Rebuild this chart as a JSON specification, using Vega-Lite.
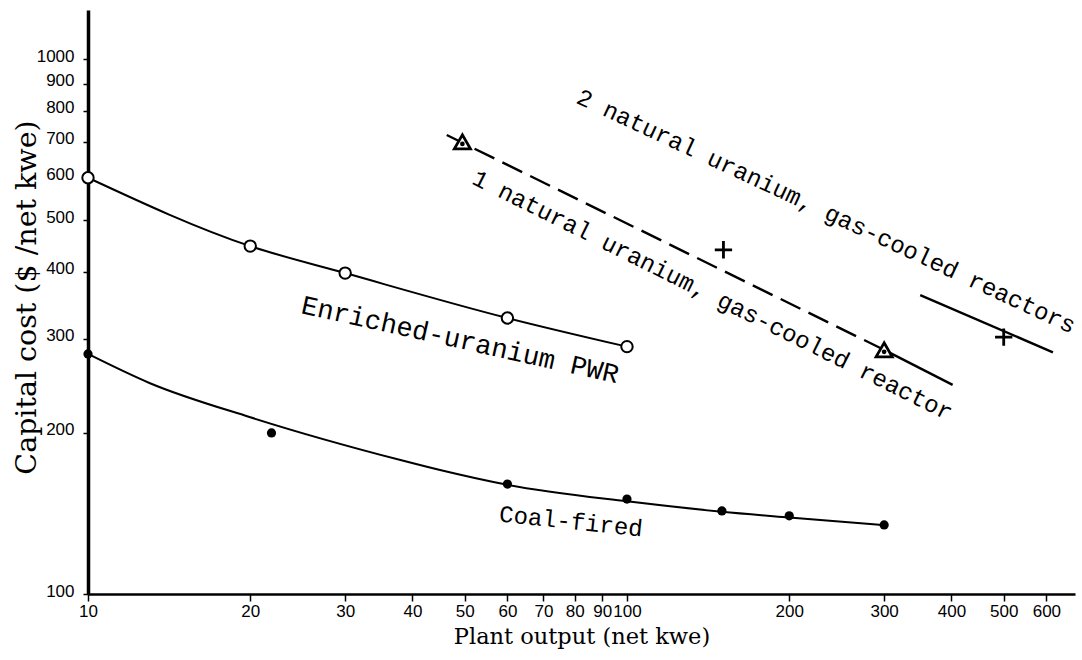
{
  "$schema": "https://vega.github.io/schema/vega-lite/v6.json",
  "width": 987,
  "height": 584,
  "autosize": {"type": "none"},
  "padding": {"left": 88, "top": 10, "right": 7, "bottom": 66},
  "background": "white",
  "config": {
    "view": {"stroke": null},
    "axis": {"grid": false, "domainColor": "black", "tickColor": "black", "labelColor": "black", "titleColor": "black"}
  },
  "datasets": {
    "enriched": [
      {"output": 10, "cost": 600},
      {"output": 20, "cost": 447},
      {"output": 30, "cost": 398},
      {"output": 60, "cost": 328},
      {"output": 100, "cost": 290}
    ],
    "coalCurve": [
      {"output": 10, "cost": 281},
      {"output": 13, "cost": 248},
      {"output": 20, "cost": 214},
      {"output": 38, "cost": 178},
      {"output": 45, "cost": 170.5},
      {"output": 60, "cost": 160},
      {"output": 100, "cost": 149},
      {"output": 150, "cost": 142.5},
      {"output": 200, "cost": 139},
      {"output": 300, "cost": 134.5}
    ],
    "coal": [
      {"output": 10, "cost": 281},
      {"output": 21.9, "cost": 200},
      {"output": 60, "cost": 160.5},
      {"output": 100, "cost": 150.5},
      {"output": 150, "cost": 143},
      {"output": 200, "cost": 140},
      {"output": 300, "cost": 134.6}
    ],
    "natLines": [
      {"seg": "dash", "output": 46.3, "cost": 721},
      {"seg": "dash", "output": 300, "cost": 286},
      {"seg": "solid1", "output": 300, "cost": 286},
      {"seg": "solid1", "output": 402, "cost": 246},
      {"seg": "solid2", "output": 350, "cost": 362},
      {"seg": "solid2", "output": 617, "cost": 283}
    ],
    "triangles": [
      {"output": 49.5, "cost": 700},
      {"output": 300, "cost": 286}
    ],
    "plus": [
      {"output": 151, "cost": 440},
      {"output": 500, "cost": 302}
    ],
    "labels": [
      {"key": "n2", "label": "2 natural uranium, gas-cooled reactors", "output": 234, "cost": 518},
      {"key": "n1", "label": "1 natural uranium, gas-cooled reactor", "output": 144, "cost": 361},
      {"key": "pwr", "label": "Enriched-uranium PWR", "output": 49, "cost": 298},
      {"key": "coal", "label": "Coal-fired", "output": 78.7, "cost": 136.3}
    ]
  },
  "encoding": {
    "x": {
      "field": "output",
      "type": "quantitative",
      "scale": {"type": "log", "domain": [10, 678], "nice": false},
      "axis": {
        "values": [10, 20, 30, 40, 50, 60, 70, 80, 90, 100, 200, 300, 400, 500, 600],
        "format": "d",
        "domainWidth": 2.5,
        "tickSize": 7,
        "tickWidth": 1.5,
        "labelFont": "Liberation Sans",
        "labelFontSize": 17,
        "labelPadding": 2,
        "labelFlush": false,
        "labelOverlap": false,
        "title": "Plant output (net kwe)",
        "titleFont": "DejaVu Serif",
        "titleFontSize": 22.5,
        "titleFontWeight": "normal",
        "titlePadding": 6
      }
    },
    "y": {
      "field": "cost",
      "type": "quantitative",
      "scale": {"type": "log", "domain": [100, 1235], "nice": false},
      "axis": {
        "values": [100, 200, 300, 400, 500, 600, 700, 800, 900, 1000],
        "format": "d",
        "domainWidth": 3.5,
        "tickSize": 5,
        "tickWidth": 1.5,
        "labelFont": "Liberation Sans",
        "labelFontSize": 17,
        "labelPadding": 9,
        "labelOffset": -3,
        "labelFlush": false,
        "labelOverlap": false,
        "title": "Capital cost ($ /net kwe)",
        "titleFont": "DejaVu Serif",
        "titleFontSize": 28.5,
        "titleFontWeight": "normal",
        "titleX": -47,
        "titleY": 287
      }
    }
  },
  "layer": [
    {
      "data": {"name": "enriched"},
      "mark": {"type": "line", "interpolate": "monotone", "color": "black", "strokeWidth": 2}
    },
    {
      "data": {"name": "coalCurve"},
      "mark": {"type": "line", "interpolate": "monotone", "color": "black", "strokeWidth": 2}
    },
    {
      "data": {"name": "natLines"},
      "transform": [{"filter": "datum.seg === 'dash'"}],
      "mark": {"type": "line", "color": "black", "strokeWidth": 2.4, "strokeDash": [22, 9]}
    },
    {
      "data": {"name": "natLines"},
      "transform": [{"filter": "datum.seg !== 'dash'"}],
      "mark": {"type": "line", "color": "black", "strokeWidth": 2.4},
      "encoding": {"detail": {"field": "seg"}}
    },
    {
      "data": {"name": "enriched"},
      "mark": {"type": "point", "shape": "circle", "filled": true, "fill": "white", "stroke": "black", "strokeWidth": 2, "size": 130, "opacity": 1}
    },
    {
      "data": {"name": "coal"},
      "mark": {"type": "circle", "color": "black", "size": 85, "opacity": 1}
    },
    {
      "data": {"name": "triangles"},
      "mark": {"type": "point", "shape": "triangle-up", "filled": true, "fill": "white", "stroke": "black", "strokeWidth": 2.8, "size": 260, "opacity": 1}
    },
    {
      "data": {"name": "triangles"},
      "mark": {"type": "circle", "color": "black", "size": 22, "yOffset": 2, "opacity": 1}
    },
    {
      "data": {"name": "plus"},
      "mark": {"type": "point", "shape": "M -1 0 L 1 0 M 0 -1 L 0 1", "filled": false, "stroke": "black", "strokeWidth": 2.8, "size": 300, "opacity": 1}
    },
    {
      "data": {"name": "labels"},
      "transform": [{"filter": "datum.key === 'n2'"}],
      "mark": {"type": "text", "font": "Liberation Mono", "fontSize": 24, "angle": 25, "align": "center", "baseline": "middle", "color": "black"},
      "encoding": {"text": {"field": "label"}}
    },
    {
      "data": {"name": "labels"},
      "transform": [{"filter": "datum.key === 'n1'"}],
      "mark": {"type": "text", "font": "Liberation Mono", "fontSize": 24, "angle": 26.5, "align": "center", "baseline": "middle", "color": "black"},
      "encoding": {"text": {"field": "label"}}
    },
    {
      "data": {"name": "labels"},
      "transform": [{"filter": "datum.key === 'pwr'"}],
      "mark": {"type": "text", "font": "Liberation Mono", "fontSize": 27, "angle": 12.5, "align": "center", "baseline": "middle", "color": "black"},
      "encoding": {"text": {"field": "label"}}
    },
    {
      "data": {"name": "labels"},
      "transform": [{"filter": "datum.key === 'coal'"}],
      "mark": {"type": "text", "font": "Liberation Mono", "fontSize": 24, "angle": 6, "align": "center", "baseline": "middle", "color": "black"},
      "encoding": {"text": {"field": "label"}}
    }
  ]
}
